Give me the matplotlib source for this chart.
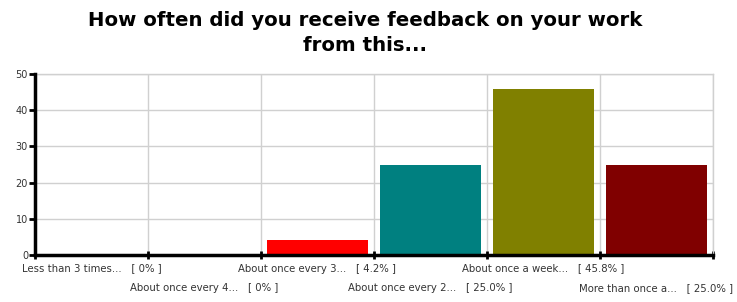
import matplotlib
matplotlib.use("Agg")
import matplotlib.pyplot as plt

categories = ["Less than 3 times...", "About once every 4...", "About once every 3...",
              "About once every 2...", "About once a week...", "More than once a..."]
pct_labels = ["[ 0% ]", "[ 0% ]", "[ 4.2% ]", "[ 25.0% ]", "[ 45.8% ]", "[ 25.0% ]"]
values = [0, 0, 4.2, 25.0, 45.8, 25.0]
colors = ["#FF0000", "#008080", "#FF0000", "#008080", "#808000", "#800000"]
yticks = [0, 10, 20, 30, 40, 50]
title = "How often did you receive feedback on your work\nfrom this..."

fig = plt.figure(figsize=(7.37, 3.02), dpi=100)
ax = fig.add_axes([35/737, 47/302, 678/737, 181/302])

n = len(categories)
xs = [i + 0.5 for i in range(n)]
ax.bar(xs, values, width=0.9, color=colors, zorder=3)

ax.set_xlim(0, n)
ax.set_ylim(0, 50)
ax.set_yticks(yticks)
ax.set_yticklabels([str(v) for v in yticks], fontsize=7, color="#333333")
ax.set_xticks(range(n + 1))
ax.set_xticklabels([])
ax.tick_params(axis="x", direction="inout", length=6, width=2, color="black")
ax.tick_params(axis="y", direction="out", length=4, width=2, color="black", pad=1)

for v in yticks[1:]:
    ax.axhline(v, color="#d0d0d0", lw=1, zorder=1)
for i in range(1, n + 1):
    ax.axvline(i, color="#d0d0d0", lw=1, zorder=1)

for s in ["top", "right"]:
    ax.spines[s].set_color("#d0d0d0")
    ax.spines[s].set_linewidth(1)
for s in ["left", "bottom"]:
    ax.spines[s].set_color("black")
    ax.spines[s].set_linewidth(2.5)
    ax.spines[s].set_zorder(4)

for i, (c, p) in enumerate(zip(categories, pct_labels)):
    y = -0.075 if i % 2 == 0 else -0.185
    ax.text(xs[i], y, c + "   " + p, transform=ax.get_xaxis_transform(),
            ha="center", va="center", fontsize=7.3, color="#333333")

fig.text(365/737, 1 - 33/302, title, fontsize=14.2, fontweight="bold",
         ha="center", va="center", linespacing=1.35, multialignment="center")

fig.savefig("out.png", dpi=100)
